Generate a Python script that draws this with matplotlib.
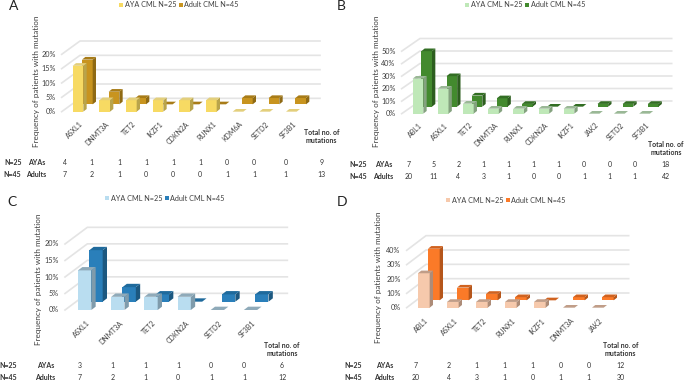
import matplotlib
matplotlib.use('Agg')
import matplotlib.pyplot as plt
from matplotlib.patches import Rectangle

plt.rcParams['font.family'] = ['Lato', 'DejaVu Sans']

W, H = 685, 382

# values (% of patients)
genes_a = ['ASXL1', 'DNMT3A', 'TET2', 'IKZF1', 'CDKN2A', 'RUNX1', 'KDM6A', 'SETD2', 'SF3B1']
aya_a = [16, 4, 4, 4, 4, 4, 0, 0, 0]
adult_a = [15.6, 4.4, 2.2, 0, 0, 0, 2.2, 2.2, 2.2]
aya_n_a = ['4', '1', '1', '1', '1', '1', '0', '0', '0', '9']
adult_n_a = ['7', '2', '1', '0', '0', '0', '1', '1', '1', '13']
ticks_a = [0, 5, 10, 15, 20]

genes_b = ['ABL1', 'ASXL1', 'TET2', 'DNMT3A', 'RUNX1', 'CDKN2A', 'IKZF1', 'JAK2', 'SETD2', 'SF3B1']
aya_b = [28, 20, 8, 4, 4, 4, 4, 0, 0, 0]
adult_b = [44.4, 24.4, 8.9, 6.7, 2.2, 0, 0, 2.2, 2.2, 2.2]
aya_n_b = ['7', '5', '2', '1', '1', '1', '1', '0', '0', '0', '18']
adult_n_b = ['20', '11', '4', '3', '1', '0', '0', '1', '1', '1', '42']
ticks_b = [0, 10, 20, 30, 40, 50]

genes_c = ['ASXL1', 'DNMT3A', 'TET2', 'CDKN2A', 'SETD2', 'SF3B1']
aya_c = [12, 4, 4, 4, 0, 0]
adult_c = [15.6, 4.4, 2.2, 0, 2.2, 2.2]
aya_n_c = ['3', '1', '1', '1', '0', '0', '6']
adult_n_c = ['7', '2', '1', '0', '1', '1', '12']
ticks_c = [0, 5, 10, 15, 20]

genes_d = ['ABL1', 'ASXL1', 'TET2', 'RUNX1', 'IKZF1', 'DNMT3A', 'JAK2']
aya_d = [24, 4, 4, 4, 4, 0, 0]
adult_d = [36, 8.9, 4.5, 2.2, 0, 2.2, 2.2]
aya_n_d = ['7', '2', '1', '1', '1', '0', '0', '12']
adult_n_d = ['20', '4', '3', '1', '0', '1', '1', '30']
ticks_d = [0, 10, 20, 30, 40]

fig = plt.figure(figsize=(W / 100, H / 100), dpi=100)


def put(x, y, s, **kw):
    fig.text(x / W, 1 - y / H, s, **kw)


def box3d(ax, x, w, base, v, dx, dy, colors):
    front, side, top = colors
    if v > 0:
        ax.bar(x, v, w, bottom=base, color=front, align='edge', linewidth=0)
        ax.fill([x + w, x + w + dx, x + w + dx, x + w],
                [base, base + dy, base + v + dy, base + v], color=side, lw=0)
    ax.fill([x, x + dx, x + w + dx, x + w],
            [base + v, base + v + dy, base + v + dy, base + v], color=top, lw=0)


def panel(letter, genes, aya, adult, aya_n, adult_n, ticks, colors, g):
    # zoomed pixel numbers from the reference are divided by 3 here
    ox, oy = g['origin']
    z = lambda n: n / 3
    y0 = oy + z(g['y0'])
    left = ox + z(g['left'])
    sp = z(g['spacing'])
    ppu = z(g['tick_step']) / (ticks[1] - ticks[0])

    ax = fig.add_axes([0, 0, 1, 1])
    ax.axis('off')
    ax.patch.set_alpha(0)
    ax.set_xlim(-left / sp, (W - left) / sp)
    ax.set_ylim((y0 - H) / ppu, y0 / ppu)

    w = z(g['bar']) / sp
    dx = z(g['depth'][0]) / sp
    dy = z(g['depth'][1]) / ppu
    ad_x = z(g['adult_off'][0]) / sp
    ad_y = z(g['adult_off'][1]) / ppu

    gl = (ox + z(g['grid'][0]) - left) / sp
    gb = (ox + z(g['grid'][1]) - left) / sp
    gr = (ox + z(g['grid'][2]) - left) / sp
    by = z(g['back']) / ppu
    for t in ticks:
        ax.plot([gl, gb, gr], [t, t + by, t + by], color='#e4e4e4', lw=1.2, zorder=1)
        ax.text(gl - 6 / sp, t, '%d%%' % t, ha='right', va='center', fontsize=5.2, color='#404040')

    for i, v in enumerate(adult):
        box3d(ax, i + ad_x, w, ad_y, v, dx, dy, colors[1])
    for i, v in enumerate(aya):
        box3d(ax, i, w, 0, v, dx, dy, colors[0])

    for i, name in enumerate(genes):
        ax.text(i + w * 0.6, -z(g['label_drop']) / ppu, name, rotation=45, ha='right', va='top',
                rotation_mode='anchor', fontsize=5.0, color='#404040')

    # panel letter, legend, y label
    put(ox + z(g['letter'][0]), oy + z(g['letter'][1]), letter, fontsize=10, ha='center', va='center', color='#222222')
    ly = oy + z(g['leg_y'])
    for sx, name, c in ((g['leg_x'][0], 'AYA CML N=25', colors[0][0]), (g['leg_x'][1], 'Adult CML N=45', colors[1][0])):
        fig.add_artist(Rectangle(((ox + z(sx)) / W, 1 - (ly + 2) / H), 4 / W, 4 / H,
                                 color=c, lw=0, transform=fig.transFigure))
        put(ox + z(sx) + 5.5, ly, name, fontsize=5.2, ha='left', va='center', color='#404040')
    put(ox + z(g['ylab'][0]), oy + z(g['ylab'][1]), 'Frequency of patients with mutation',
        rotation=90, fontsize=5.9, ha='center', va='center', color='#404040')

    # counts table under the bars
    r1, r2 = oy + z(g['rows'][0]), oy + z(g['rows'][1])
    bold = dict(fontsize=5.0, ha='center', va='center', weight='bold', color='#333333')
    plain = dict(fontsize=5.0, ha='center', va='center', color='#333333')
    put(ox + z(g['n_x']), r1, 'N=25', **bold)
    put(ox + z(g['n_x']), r2, 'N=45', **bold)
    put(ox + z(g['name_x']), r1, 'AYAs', **bold)
    put(ox + z(g['name_x']), r2, 'Adults', **bold)
    for cx, a, b in zip(g['cols'], aya_n, adult_n):
        put(ox + z(cx), r1, a, **plain)
        put(ox + z(cx), r2, b, **plain)
    put(ox + z(g['cols'][-1]), oy + z(g['head_y']), 'Total no. of\nmutations', linespacing=1.15, **bold)


yellow = [('#f7da63', '#b9a44b', '#e3cf7c'), ('#c8941f', '#8f6a14', '#a87c18')]
green = [('#bfe8b8', '#84a27f', '#9ab896'), ('#438a2e', '#2d5e1f', '#336e24')]
blue = [('#b9ddf0', '#7f9bab', '#8faab9'), ('#2a7fba', '#1c5880', '#1f6a9c')]
orange = [('#f6c9ac', '#ad8c78', '#c09d88'), ('#fb7a28', '#b5561b', '#d0621f')]

panel('A', genes_a, aya_a, adult_a, aya_n_a, adult_n_a, ticks_a, yellow, dict(
    origin=(0, 0), y0=335, left=218, spacing=80, tick_step=43, bar=32, depth=(10, 8), adult_off=(28, 22),
    grid=(185, 240, 960), back=40, label_drop=26, letter=(40, 19), leg_y=14, leg_x=(358, 537), ylab=(110, 243),
    rows=(487, 524), n_x=38, name_x=110, head_y=410,
    cols=[195, 275, 357, 438, 519, 600, 681, 762, 857, 965]))

panel('B', genes_b, aya_b, adult_b, aya_n_b, adult_n_b, ticks_b, green, dict(
    origin=(340, 0), y0=341, left=218, spacing=75.5, tick_step=37.5, bar=32, depth=(10, 8), adult_off=(26, 21),
    grid=(185, 240, 995), back=38, label_drop=24, letter=(5, 19), leg_y=14, leg_x=(376, 556), ylab=(110, 243),
    rows=(493, 530), n_x=55, name_x=130, head_y=446,
    cols=[205, 280, 355, 431, 506, 581, 656, 732, 808, 883, 978]))

panel('C', genes_c, aya_c, adult_c, aya_n_c, adult_n_c, ticks_c, blue, dict(
    origin=(0, 190), y0=360, left=234, spacing=99.5, tick_step=49.5, bar=40, depth=(13, 10), adult_off=(34, 25),
    grid=(195, 262, 862), back=50, label_drop=28, letter=(37, 35), leg_y=24, leg_x=(316, 494), ylab=(117, 268),
    rows=(528, 562), n_x=25, name_x=137, head_y=479,
    cols=[238, 337, 436, 534, 633, 732, 846]))

panel('D', genes_d, aya_d, adult_d, aya_n_d, adult_n_d, ticks_d, orange, dict(
    origin=(340, 190), y0=353, left=234, spacing=87, tick_step=43, bar=35, depth=(10, 8), adult_off=(30, 22),
    grid=(200, 258, 866), back=44, label_drop=28, letter=(5, 35), leg_y=31, leg_x=(318, 497), ylab=(117, 263),
    rows=(528, 562), n_x=40, name_x=133, head_y=479,
    cols=[228, 326, 410, 493, 578, 662, 746, 841]))

fig.savefig('out.png', dpi=100)
